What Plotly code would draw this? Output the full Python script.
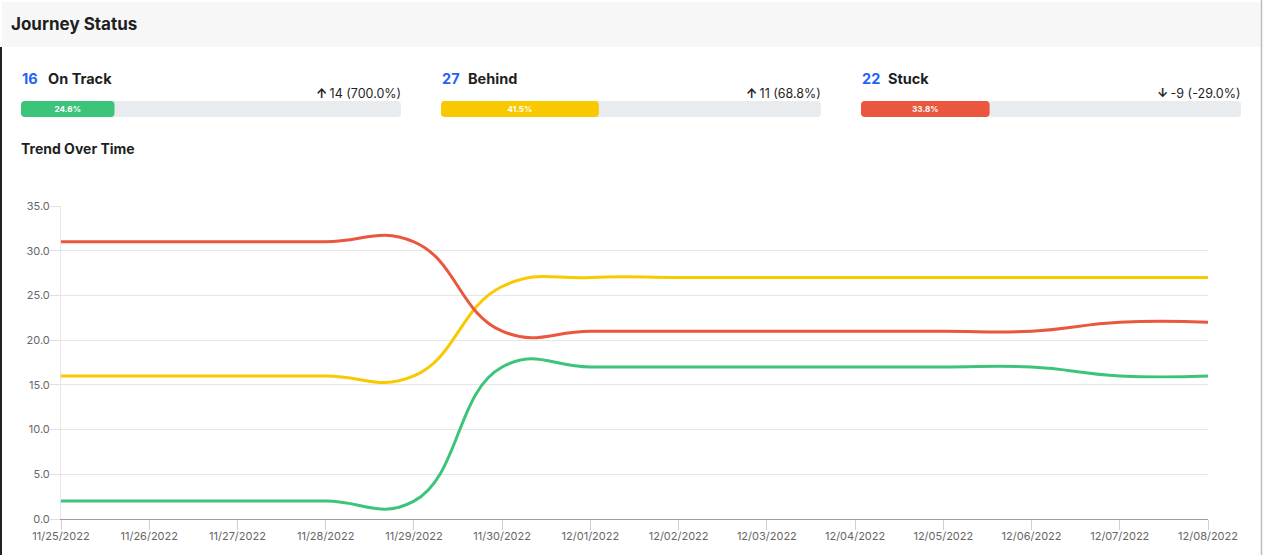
import plotly.graph_objects as go

# ---------------- data ----------------
dates = ["2022-11-25", "2022-11-26", "2022-11-27", "2022-11-28", "2022-11-29",
         "2022-11-30", "2022-12-01", "2022-12-02", "2022-12-03", "2022-12-04",
         "2022-12-05", "2022-12-06", "2022-12-07", "2022-12-08"]
on_track = [2, 2, 2, 2, 2, 17, 17, 17, 17, 17, 17, 17, 16, 16]
behind = [16, 16, 16, 16, 16, 26, 27, 27, 27, 27, 27, 27, 27, 27]
stuck = [31, 31, 31, 31, 31, 21, 21, 21, 21, 21, 21, 21, 22, 22]
series_names = ["On Track", "Behind", "Stuck"]
y_ticks = [0, 5, 10, 15, 20, 25, 30, 35]

# ---------------- styles ----------------
W, H = 1263, 555
GREEN, YELLOW, RED = "#3dc47b", "#f9c900", "#ea573e"
BLUE = "#2563f5"
TEXT = "#1f1f1f"
TRACK = "#e9ecef"
FONT = "Inter, Roboto, Arial, sans-serif"


def px(x):
    return x / W


def py(y):
    return 1 - y / H


def rounded_rect_path(x0, y0, x1, y1, r):
    """Rounded rectangle in paper coordinates from pixel box."""
    X = lambda v: f"{px(v):.6f}"
    Y = lambda v: f"{py(v):.6f}"
    return (f"M {X(x0 + r)},{Y(y0)} L {X(x1 - r)},{Y(y0)} Q {X(x1)},{Y(y0)} {X(x1)},{Y(y0 + r)} "
            f"L {X(x1)},{Y(y1 - r)} Q {X(x1)},{Y(y1)} {X(x1 - r)},{Y(y1)} "
            f"L {X(x0 + r)},{Y(y1)} Q {X(x0)},{Y(y1)} {X(x0)},{Y(y1 - r)} "
            f"L {X(x0)},{Y(y0 + r)} Q {X(x0)},{Y(y0)} {X(x0 + r)},{Y(y0)} Z")


series = [on_track, behind, stuck]
colors = [GREEN, YELLOW, RED]
total_now = sum(s[-1] for s in series)

fig = go.Figure()

# trend lines
for name, vals, col in zip(series_names, series, colors):
    fig.add_trace(go.Scatter(
        x=dates, y=vals, name=name, mode="lines",
        line=dict(color=col, width=3, shape="spline", smoothing=1.3),
        xaxis="x", yaxis="y", showlegend=False, hoverinfo="x+y+name"))

# progress bars
card_left = [21, 441, 861]
card_w = 380
bar_top, bar_bot = 101, 117
shapes = []
annotations = []
for i, (name, vals, col) in enumerate(zip(series_names, series, colors)):
    ax = str(i + 2)
    L = card_left[i]
    share = vals[-1] / total_now * 100
    # track background
    shapes.append(dict(type="path", xref="paper", yref="paper",
                       path=rounded_rect_path(L, bar_top, L + card_w, bar_bot, 4),
                       fillcolor=TRACK, line=dict(width=0), layer="below"))
    # fill (drawn from share back to 0 so the left end is rounded)
    fig.add_trace(go.Bar(x=[-share], base=[share], y=[0], orientation="h",
                         marker=dict(color=col, cornerradius=4, line=dict(width=0)),
                         width=1, xaxis="x" + ax, yaxis="y" + ax, showlegend=False,
                         text=[f"<b>{share:.1f}%</b>"], textposition="inside",
                         insidetextanchor="middle", textangle=0,
                         textfont=dict(color="white", size=9, family=FONT),
                         constraintext="none", hoverinfo="skip"))
    annotations.append(dict(x=px(L - 1), y=py(78), xref="paper", yref="paper",
                            xanchor="left", yanchor="middle", showarrow=False,
                            text=f"<b>{vals[-1]}</b>",
                            font=dict(color=BLUE, size=14.5, family=FONT)))
    annotations.append(dict(x=px(L + 25), y=py(78), xref="paper", yref="paper",
                            xanchor="left", yanchor="middle", showarrow=False,
                            text=f"<b>{name}</b>",
                            font=dict(color=TEXT, size=14.5, family=FONT)))
    change = vals[-1] - vals[0]
    pct = change / vals[0] * 100
    arrow = "↑" if change >= 0 else "↓"
    annotations.append(dict(x=px(L + card_w + 2), y=py(93), xref="paper", yref="paper",
                            xanchor="right", yanchor="middle", showarrow=False,
                            text=f"<b>{arrow}</b>\u2009{change} ({pct:.1f}%)",
                            font=dict(color=TEXT, size=12.5, family=FONT)))

# header & titles
shapes.append(dict(type="rect", xref="paper", yref="paper", x0=px(2), x1=px(1261),
                   y0=py(47), y1=py(2), fillcolor="#f7f7f7", line=dict(width=0), layer="below"))
shapes.append(dict(type="line", xref="paper", yref="paper", x0=px(1), x1=px(1),
                   y0=py(47), y1=py(555), line=dict(color="#222222", width=2)))
shapes.append(dict(type="line", xref="paper", yref="paper", x0=px(1261.5), x1=px(1261.5),
                   y0=py(0), y1=py(555), line=dict(color="#bdbdbd", width=1.5)))
annotations.append(dict(x=px(9), y=py(24), xref="paper", yref="paper",
                        xanchor="left", yanchor="middle", showarrow=False,
                        text="<b>Journey Status</b>",
                        font=dict(color=TEXT, size=17, family=FONT)))
annotations.append(dict(x=px(19), y=py(149), xref="paper", yref="paper",
                        xanchor="left", yanchor="middle", showarrow=False,
                        text="<b>Trend Over Time</b>",
                        font=dict(color=TEXT, size=14, family=FONT)))

layout = dict(
    width=W, height=H, margin=dict(l=0, r=0, t=0, b=0, pad=0), autosize=False,
    paper_bgcolor="white", plot_bgcolor="white",
    barmode="overlay", font=dict(family=FONT),
    shapes=shapes, annotations=annotations,
    xaxis=dict(domain=[px(61), px(1208)], type="date", automargin=False,
               range=[dates[0], dates[-1]], tickformat="%m/%d/%Y",
               tick0=dates[0], dtick=86400000, showgrid=False,
               ticks="outside", ticklen=10, tickcolor="#d0d0d0",
               ticklabelstandoff=-3,
               showline=True, linecolor="#9e9e9e", linewidth=1,
               tickfont=dict(size=11, color="#666666", family=FONT),
               zeroline=False, anchor="y"),
    yaxis=dict(domain=[py(519), py(206)], range=[0, 35], tickvals=y_ticks,
               automargin=False, ticklabelstandoff=-2,
               tickformat=".1f", showgrid=True, gridcolor="#e6e6e6",
               ticks="outside", ticklen=10, tickcolor="#e0e0e0",
               showline=True, linecolor="#e6e6e6", zeroline=False,
               tickfont=dict(size=11, color="#666666", family=FONT), anchor="x"),
)
for i in range(3):
    ax = str(i + 2)
    L = card_left[i]
    layout["xaxis" + ax] = dict(domain=[px(L), px(L + card_w)], range=[0, 100],
                                visible=False, anchor="y" + ax, fixedrange=True,
                                automargin=False)
    layout["yaxis" + ax] = dict(domain=[py(bar_bot), py(bar_top)], range=[-0.5, 0.5],
                                visible=False, anchor="x" + ax, fixedrange=True,
                                automargin=False)

fig.update_layout(**layout)
fig.write_html("out.html", config={"displayModeBar": False},
               post_script="document.body.style.margin='0';document.body.style.overflow='hidden';")
